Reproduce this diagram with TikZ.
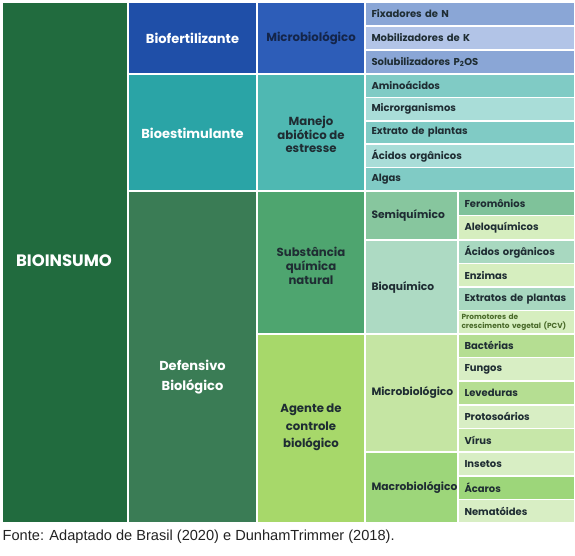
\documentclass[tikz,border=0pt]{standalone}
\usepackage{fontspec}
\setmainfont{Poppins}
\newfontfamily\footfont{Liberation Sans}
\definecolor{cBioinsumo}{HTML}{216B3E}
\definecolor{cBiofert}{HTML}{1F4FA8}
\definecolor{cMicroTop}{HTML}{2D5DB8}
\definecolor{cBlueA}{HTML}{8AA6D6}
\definecolor{cBlueB}{HTML}{B2C4E7}
\definecolor{cBioest}{HTML}{2AA4A6}
\definecolor{cManejo}{HTML}{4FB8B2}
\definecolor{cTealA}{HTML}{80CBC5}
\definecolor{cTealB}{HTML}{A9DDD8}
\definecolor{cDefens}{HTML}{3A7C55}
\definecolor{cSubst}{HTML}{4EA56F}
\definecolor{cSemiq}{HTML}{87C69E}
\definecolor{cBioq}{HTML}{ADDAC3}
\definecolor{cFerom}{HTML}{7FC29A}
\definecolor{cPaleY}{HTML}{D6EEBF}
\definecolor{cPaleT}{HTML}{A8D8C0}
\definecolor{cAgente}{HTML}{A7D86A}
\definecolor{cMicroLow}{HTML}{C5E5A3}
\definecolor{cMacro}{HTML}{9DD67A}
\definecolor{cLimeA}{HTML}{B5DE92}
\definecolor{cLimeB}{HTML}{D8EEC4}
\definecolor{cVirus}{HTML}{C7E7A9}
\definecolor{cTxt}{HTML}{1F2D33}
\definecolor{cTxtNavy}{HTML}{14254A}
\definecolor{cOlive}{HTML}{4A6A2A}
\definecolor{cFoot}{HTML}{222222}
% box only (name, x1, y1, x2, y2, fill)
\newcommand\mybox[6]{%
  \pgfmathsetmacro\cw{#4-#2}\pgfmathsetmacro\ch{#5-#3}%
  \node[cell, fill=#6, minimum width=\cw pt, minimum height=\ch pt] (#1) at ({(#2+#4)/2},{(#3+#5)/2}) {};}
\newcommand\myitem[8]{% name x1 y1 x2 y2 fill style text
  \pgfmathsetmacro\cw{#4-#2}\pgfmathsetmacro\ch{#5-#3}\pgfmathsetmacro\tw{#4-#2-13}%
  \node[cell, fill=#6, itemtext, #7, text width=\tw pt, minimum width=\cw pt, minimum height=\ch pt] (#1) at ({(#2+#4)/2},{(#3+#5)/2}) {#8};}
\tikzset{
  cell/.style={draw=white, line width=1.6pt, inner sep=0pt, outer sep=0pt, rectangle},
  labw/.style={text=white, font=\fontsize{13}{20}\selectfont\bfseries, align=center, inner sep=0pt},
  labd/.style={text=cTxt, font=\fontsize{11.7}{14}\selectfont\bfseries, align=center, inner sep=0pt},
  itemtext/.style={text=cTxt, font=\fontsize{10}{12}\selectfont\bfseries, align=left},
  subcat/.style={font=\fontsize{10.7}{12}\selectfont\bfseries},
}
\begin{document}
\begin{tikzpicture}[x=1pt,y=-1pt]
\useasboundingbox (0,0) rectangle (575,555);
% level 0
\mybox{bio}{2}{2}{128}{523}{cBioinsumo}
\node[labw, font=\fontsize{16.5}{18}\selectfont\bfseries] (tbio) at (64,261) {BIOINSUMO};
% level 1
\mybox{bfert}{128}{2}{257}{74}{cBiofert}
\node[labw] (tbfert) at (192.5,38.5) {Biofertilizante};
\mybox{best}{128}{74}{257}{191}{cBioest}
\node[labw] (tbest) at (192.5,133) {Bioestimulante};
\mybox{bdef}{128}{191}{257}{523}{cDefens}
\node[labw] (tbdef) at (192.5,377) {Defensivo\\Biológico};
% level 2
\mybox{mtop}{257}{2}{365}{74}{cMicroTop}
\node[labd, text=cTxtNavy] (tmtop) at (311,38.5) {Microbiológico};
\mybox{manejo}{257}{74}{365}{191}{cManejo}
\node[labd, font=\fontsize{11.7}{12.7}\selectfont\bfseries] (tmanejo) at (311,134.5) {Manejo\\abiótico de\\estresse};
\mybox{subst}{257}{191}{365}{334}{cSubst}
\node[labd] (tsubst) at (311,265.5) {Substância\\química\\natural};
\mybox{agente}{257}{334}{365}{523}{cAgente}
\node[labd, font=\fontsize{11.7}{17.5}\selectfont\bfseries] (tagente) at (311,427.5) {Agente de\\controle\\biológico};
% biofertilizante items
\myitem{fix}{365}{2}{575}{26}{cBlueA}{}{Fixadores de N}
\myitem{mob}{365}{26}{575}{50}{cBlueB}{}{Mobilizadores de K}
\myitem{sol}{365}{50}{575}{74}{cBlueA}{}{Solubilizadores P\textsubscript{2}OS}
% bioestimulante items
\myitem{amino}{365}{74}{575}{97.4}{cTealA}{}{Aminoácidos}
\myitem{micror}{365}{97.4}{575}{120.8}{cTealB}{}{Microrganismos}
\myitem{extr}{365}{120.8}{575}{144.2}{cTealA}{}{Extrato de plantas}
\myitem{acid}{365}{144.2}{575}{167.6}{cTealB}{}{Ácidos orgânicos}
\myitem{algas}{365}{167.6}{575}{191}{cTealA}{}{Algas}
% substancia
\myitem{semiq}{365}{191}{458}{240}{cSemiq}{subcat}{Semiquímico}
\myitem{bioq}{365}{240}{458}{334}{cBioq}{subcat}{Bioquímico}
\myitem{ferom}{458}{191}{575}{215.5}{cFerom}{}{Feromônios}
\myitem{alelo}{458}{215.5}{575}{240}{cPaleY}{}{Aleloquímicos}
\myitem{acid2}{458}{240}{575}{263.5}{cPaleT}{}{Ácidos orgânicos}
\myitem{enz}{458}{263.5}{575}{287}{cPaleY}{}{Enzimas}
\myitem{extr2}{458}{287}{575}{310.5}{cPaleT}{}{Extratos de plantas}
\pgfmathsetmacro\cw{117}\pgfmathsetmacro\ch{23.5}
\node[cell, fill=cPaleY, text=cOlive, font=\fontsize{7.4}{8.2}\selectfont\bfseries, align=left, text width=110pt, minimum width=\cw pt, minimum height=\ch pt] (prom) at (516.5,322.25) {Promotores de\\crescimento vegetal (PCV)};
% agente
\myitem{microlow}{365}{334}{458}{452}{cMicroLow}{subcat, text width=84pt}{Microbiológico}
\myitem{macro}{365}{452}{458}{523}{cMacro}{subcat, text width=84pt}{Macrobiológico}
\myitem{bact}{458}{334}{575}{357.6}{cLimeA}{}{Bactérias}
\myitem{fung}{458}{357.6}{575}{381.2}{cLimeB}{}{Fungos}
\myitem{lev}{458}{381.2}{575}{404.8}{cLimeA}{}{Leveduras}
\myitem{prot}{458}{404.8}{575}{428.4}{cLimeB}{}{Protosoários}
\myitem{virus}{458}{428.4}{575}{452}{cVirus}{}{Vírus}
\myitem{ins}{458}{452}{575}{475.7}{cLimeB}{}{Insetos}
\myitem{acar}{458}{475.7}{575}{499.3}{cMacro}{}{Ácaros}
\myitem{nema}{458}{499.3}{575}{523}{cLimeB}{}{Nematóides}
% footer
\node[anchor=west, inner sep=0pt, text=cFoot, font=\footfont\fontsize{14.6}{16}\selectfont] (fonte) at (2.5,536.5) {Fonte: Adaptado de Brasil (2020) e DunhamTrimmer (2018).};
\end{tikzpicture}
\end{document}
